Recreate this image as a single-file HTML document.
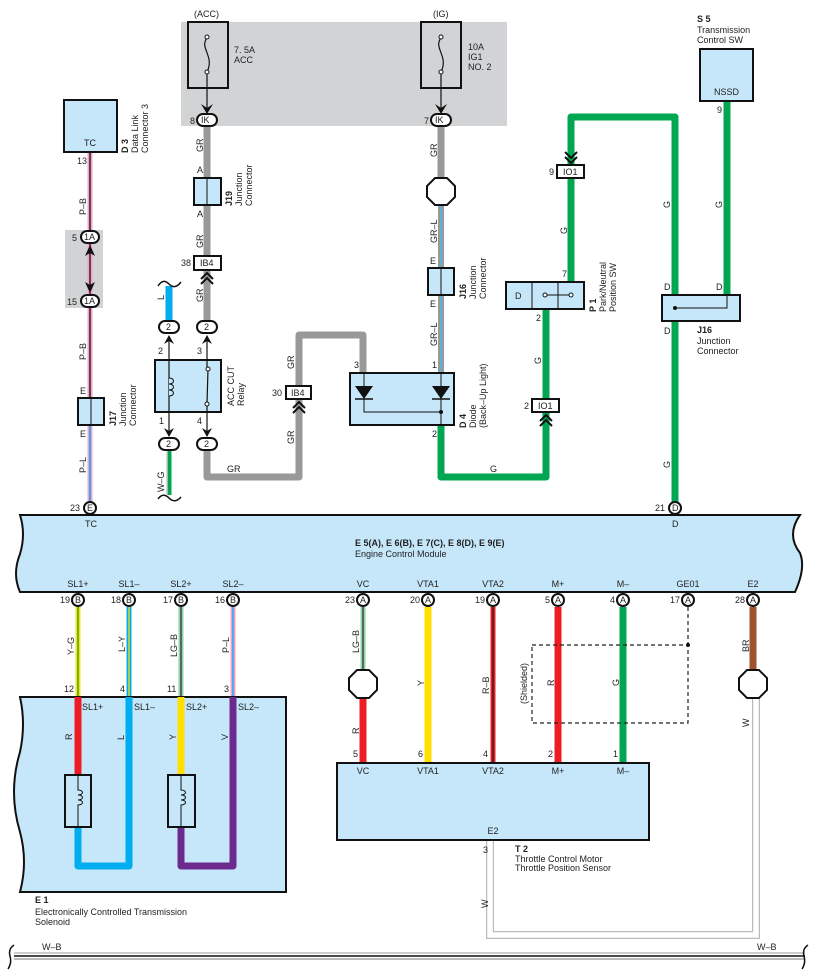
<!DOCTYPE html>
<html><head><meta charset="utf-8"><style>
html,body{margin:0;padding:0;background:#fff}
svg{display:block}
text{font-family:"Liberation Sans",sans-serif;font-size:9px;fill:#222}
.b{font-weight:bold}
</style></head><body>
<svg width="818" height="979" viewBox="0 0 818 979" xmlns="http://www.w3.org/2000/svg">
<defs>
<marker id="ar" viewBox="0 0 10 10" refX="5" refY="9" markerWidth="8" markerHeight="8" orient="auto"><path d="M0,2 L5,10 L10,2 L5,5z" fill="#111"/></marker>
</defs>
<!-- gray areas -->
<rect x="181" y="22" width="326" height="104" fill="#d2d3d5"/>
<rect x="65" y="230" width="38" height="78" fill="#d2d3d5"/>

<!-- fuse boxes -->
<rect x="188" y="22" width="40" height="66" fill="none" stroke="#111" stroke-width="2"/>
<path d="M207,38 c-8,10 8,18 0,34" fill="none" stroke="#111" stroke-width="1.2"/>
<circle cx="207" cy="37" r="2" fill="#fff" stroke="#111"/><circle cx="207" cy="72" r="2" fill="#fff" stroke="#111"/>
<line x1="207" y1="74" x2="207" y2="112" stroke="#111" stroke-width="1.2"/>
<path d="M201,104 L207,114 L213,104 L207,108z" fill="#111"/>
<text x="194" y="17">(ACC)</text><text x="234" y="53">7. 5A</text><text x="234" y="63">ACC</text>
<rect x="421" y="22" width="40" height="66" fill="none" stroke="#111" stroke-width="2"/>
<path d="M441,38 c-8,10 8,18 0,34" fill="none" stroke="#111" stroke-width="1.2"/>
<circle cx="441" cy="37" r="2" fill="#fff" stroke="#111"/><circle cx="441" cy="72" r="2" fill="#fff" stroke="#111"/>
<line x1="441" y1="74" x2="441" y2="112" stroke="#111" stroke-width="1.2"/>
<path d="M435,104 L441,114 L447,104 L441,108z" fill="#111"/>
<text x="433" y="17">(IG)</text><text x="468" y="50">10A</text><text x="468" y="60">IG1</text><text x="468" y="70">NO. 2</text>

<!-- GR wires -->
<g stroke="#999" stroke-width="7" fill="none" stroke-linejoin="round">
<line x1="207" y1="126" x2="207" y2="322"/>
<path d="M207,450 V477 H299 V335 H363 V373"/>
<line x1="441" y1="126" x2="441" y2="180"/>
</g>
<!-- GR-L -->
<line x1="441" y1="203" x2="441" y2="373" stroke="#999" stroke-width="6"/>
<line x1="441" y1="203" x2="441" y2="373" stroke="#4db8e8" stroke-width="1.5"/>
<!-- G wires -->
<g stroke="#00a651" stroke-width="7" fill="none" stroke-linejoin="round">
<path d="M441,425 V477 H546 V309"/>
<path d="M571,282 V117 H675 V502"/>
<line x1="727" y1="101" x2="727" y2="295"/>
</g>
<!-- L wire -->
<line x1="169" y1="286" x2="169" y2="321" stroke="#00aeef" stroke-width="7"/>
<path d="M158,286 q5,-8 11,-2 q6,6 12,-2" fill="none" stroke="#111" stroke-width="1.5"/>
<!-- W-G -->
<line x1="169" y1="450" x2="169" y2="495" stroke="#00a651" stroke-width="5"/>
<line x1="167" y1="450" x2="167" y2="495" stroke="#ccc" stroke-width="1.5"/>
<path d="M158,499 q5,-7 11,-1 q6,6 12,-1" fill="none" stroke="#111" stroke-width="1.5"/>

<!-- P-B wire D3 -->
<line x1="90" y1="152" x2="90" y2="398" stroke="#f5a0c8" stroke-width="5"/>
<line x1="90" y1="152" x2="90" y2="398" stroke="#111" stroke-width="1.3"/>
<line x1="90" y1="425" x2="90" y2="502" stroke="#f5a0c8" stroke-width="5"/>
<line x1="90" y1="425" x2="90" y2="502" stroke="#00aeef" stroke-width="1.5"/>

<!-- D3 -->
<rect x="64" y="100" width="53" height="52" fill="#c5e7f9" stroke="#111" stroke-width="2"/>
<text x="84" y="146">TC</text><text x="77" y="164" font-size="8">13</text>
<g transform="translate(122,153) rotate(-90)"><text class="b" x="0" y="6">D 3</text><text x="0" y="16">Data Link</text><text x="0" y="26">Connector 3</text></g>
<!-- 1A -->
<rect x="81" y="231" width="18" height="12" rx="6" fill="#fff" stroke="#111" stroke-width="2"/><text x="84" y="240">1A</text><text x="72" y="241">5</text>
<rect x="81" y="295" width="18" height="12" rx="6" fill="#fff" stroke="#111" stroke-width="2"/><text x="84" y="304">1A</text><text x="67" y="305">15</text>
<line x1="90" y1="250" x2="90" y2="288" stroke="#111" stroke-width="1"/>
<path d="M85,256 L90,245 L95,256 L90,253z M85,282 L90,293 L95,282 L90,285z" fill="#111"/>
<!-- J17 -->
<rect x="78" y="398" width="26" height="27" fill="#c5e7f9" stroke="#111" stroke-width="2"/><line x1="91" y1="398" x2="91" y2="425" stroke="#111"/>
<text x="80" y="394">E</text><text x="80" y="437">E</text>
<g transform="translate(110,426) rotate(-90)"><text class="b" x="0" y="6">J17</text><text x="0" y="16">Junction</text><text x="0" y="26">Connector</text></g>
<g transform="rotate(-90)"><text x="-215" y="86">P–B</text><text x="-360" y="86">P–B</text><text x="-473" y="86">P–L</text></g>

<!-- IK ovals -->
<rect x="197" y="114" width="20" height="12" rx="6" fill="#fff" stroke="#111" stroke-width="2"/><text x="201" y="123">IK</text><text x="190" y="124">8</text>
<rect x="431" y="114" width="20" height="12" rx="6" fill="#fff" stroke="#111" stroke-width="2"/><text x="435" y="123">IK</text><text x="424" y="124">7</text>
<!-- J19 -->
<rect x="194" y="178" width="27" height="27" fill="#c5e7f9" stroke="#111" stroke-width="2"/><line x1="207" y1="178" x2="207" y2="205" stroke="#111"/>
<text x="197" y="173">A</text><text x="197" y="217">A</text>
<g transform="translate(226,206) rotate(-90)"><text class="b" x="0" y="6">J19</text><text x="0" y="16">Junction</text><text x="0" y="26">Connector</text></g>
<g transform="rotate(-90)"><text x="-152" y="203">GR</text><text x="-248" y="203">GR</text><text x="-302" y="203">GR</text><text x="-369" y="294">GR</text><text x="-444" y="294">GR</text><text x="-157" y="437">GR</text><text x="-243" y="437">GR–L</text><text x="-346" y="437">GR–L</text></g>
<!-- IB4 38 -->
<rect x="194" y="256" width="27" height="14" fill="#fff" stroke="#111" stroke-width="2"/><text x="200" y="266">IB4</text><text x="181" y="266">38</text>
<path d="M201,279 L207,273 L213,279 M201,284 L207,278 L213,284" fill="none" stroke="#111" stroke-width="2"/>
<!-- relay -->
<rect x="159" y="321" width="20" height="12" rx="6" fill="#fff" stroke="#111" stroke-width="2"/><text x="166" y="330">2</text>
<rect x="197" y="321" width="20" height="12" rx="6" fill="#fff" stroke="#111" stroke-width="2"/><text x="204" y="330">2</text>
<rect x="159" y="438" width="20" height="12" rx="6" fill="#fff" stroke="#111" stroke-width="2"/><text x="166" y="447">2</text>
<rect x="197" y="438" width="20" height="12" rx="6" fill="#fff" stroke="#111" stroke-width="2"/><text x="204" y="447">2</text>
<rect x="155" y="360" width="66" height="52" fill="#c5e7f9" stroke="#111" stroke-width="2"/>
<line x1="169" y1="336" x2="169" y2="436" stroke="#111" stroke-width="1.2"/>
<line x1="207" y1="336" x2="207" y2="369" stroke="#111" stroke-width="1.2"/><line x1="207" y1="404" x2="207" y2="436" stroke="#111" stroke-width="1.2"/>
<line x1="208" y1="369" x2="207" y2="404" stroke="#111" stroke-width="1.2"/>
<circle cx="208" cy="369" r="2" fill="#fff" stroke="#111"/><circle cx="207" cy="404" r="2" fill="#fff" stroke="#111"/>
<path d="M169,378 c6,0 6,6 0,6 c6,0 6,6 0,6 c6,0 6,6 0,6" fill="#c5e7f9" stroke="#111"/>
<path d="M164,344 L169,335 L174,344 L169,341z M202,344 L207,335 L212,344 L207,341z M164,428 L169,437 L174,428 L169,431z M202,428 L207,437 L212,428 L207,431z" fill="#111"/>
<text x="158" y="354">2</text><text x="197" y="354">3</text><text x="159" y="424">1</text><text x="197" y="424">4</text>
<g transform="translate(226,406) rotate(-90)"><text x="0" y="8">ACC CUT</text><text x="0" y="18">Relay</text></g>
<text x="227" y="472">GR</text>
<g transform="rotate(-90)"><text x="-300" y="164">L</text><text x="-492" y="164">W–G</text></g>
<!-- IB4 30 -->
<rect x="286" y="386" width="25" height="13" fill="#fff" stroke="#111" stroke-width="2"/><text x="291" y="396">IB4</text><text x="272" y="396">30</text>
<path d="M293,408 L299,402 L305,408 M293,413 L299,407 L305,413" fill="none" stroke="#111" stroke-width="2"/>
<!-- octagon IG -->
<polygon points="435,178 447,178 455,186 455,197 447,205 435,205 427,197 427,186" fill="#fff" stroke="#111" stroke-width="2"/>
<!-- J16 left -->
<rect x="428" y="268" width="26" height="27" fill="#c5e7f9" stroke="#111" stroke-width="2"/><line x1="441" y1="268" x2="441" y2="295" stroke="#111"/>
<text x="430" y="264">E</text><text x="430" y="307">E</text>
<g transform="translate(460,299) rotate(-90)"><text class="b" x="0" y="6">J16</text><text x="0" y="16">Junction</text><text x="0" y="26">Connector</text></g>
<!-- diode -->
<rect x="350" y="373" width="104" height="52" fill="#c5e7f9" stroke="#111" stroke-width="2"/>
<path d="M364,373 V412 H441 M441,373 V425" fill="none" stroke="#111" stroke-width="1"/>
<polygon points="355,386 373,386 364,399" fill="#111"/><line x1="355" y1="399" x2="373" y2="399" stroke="#111" stroke-width="1.5"/>
<polygon points="432,386 450,386 441,399" fill="#111"/><line x1="432" y1="399" x2="450" y2="399" stroke="#111" stroke-width="1.5"/>
<circle cx="441" cy="412" r="2" fill="#111"/>
<text x="354" y="368">3</text><text x="432" y="368">1</text><text x="432" y="437">2</text>
<g transform="translate(460,428) rotate(-90)"><text class="b" x="0" y="6">D 4</text><text x="0" y="16">Diode</text><text x="0" y="26">(Back–Up Light)</text></g>
<text x="490" y="472">G</text>
<!-- IO1 -->
<rect x="532" y="399" width="27" height="13" fill="#fff" stroke="#111" stroke-width="2"/><text x="538" y="409">IO1</text><text x="524" y="409">2</text>
<path d="M540,421 L546,415 L552,421 M540,426 L546,420 L552,426" fill="none" stroke="#111" stroke-width="2"/>
<rect x="557" y="165" width="27" height="13" fill="#fff" stroke="#111" stroke-width="2"/><text x="563" y="175">IO1</text><text x="549" y="175">9</text>
<path d="M565,152 L571,158 L577,152 M565,157 L571,163 L577,157" fill="none" stroke="#111" stroke-width="2"/>
<!-- P1 -->
<rect x="506" y="282" width="78" height="27" fill="#c5e7f9" stroke="#111" stroke-width="2"/>
<line x1="532" y1="282" x2="532" y2="309" stroke="#111"/><line x1="558" y1="282" x2="558" y2="309" stroke="#111"/>
<line x1="545" y1="295" x2="571" y2="295" stroke="#111"/><circle cx="545" cy="295" r="2" fill="#fff" stroke="#111"/><circle cx="571" cy="295" r="2" fill="#fff" stroke="#111"/>
<text x="515" y="299">D</text><text x="562" y="277">7</text><text x="536" y="321">2</text>
<g transform="translate(590,312) rotate(-90)"><text class="b" x="0" y="6">P 1</text><text x="0" y="16">Park/Neutral</text><text x="0" y="26">Position SW</text></g>
<g transform="rotate(-90)"><text x="-234" y="567">G</text><text x="-364" y="541">G</text><text x="-208" y="670">G</text><text x="-468" y="670">G</text><text x="-208" y="722">G</text></g>
<!-- S5 -->
<text class="b" x="697" y="22">S 5</text><text x="697" y="33">Transmission</text><text x="697" y="43">Control SW</text>
<rect x="700" y="49" width="53" height="52" fill="#c5e7f9" stroke="#111" stroke-width="2"/><text x="714" y="95">NSSD</text><text x="717" y="113" font-size="8">9</text>
<!-- J16 right -->
<rect x="662" y="295" width="78" height="26" fill="#c5e7f9" stroke="#111" stroke-width="2"/>
<path d="M675,308 H727 V295" fill="none" stroke="#111" stroke-width="1"/><circle cx="675" cy="308" r="2" fill="#111"/>
<text x="664" y="290">D</text><text x="716" y="290">D</text><text x="664" y="334">D</text>
<text class="b" x="697" y="333">J16</text><text x="697" y="344">Junction</text><text x="697" y="354">Connector</text>

<!-- ECM -->
<path d="M20,515 H800 q-14,20 0,38 q6,15 -5,39 H20 q-8,-18 0,-38 q6,-20 0,-39z" fill="#c5e7f9" stroke="#111" stroke-width="2"/>
<circle cx="90" cy="508" r="6" fill="#fff" stroke="#111" stroke-width="2"/><text x="87" y="511" font-size="8">E</text><text x="70" y="511">23</text>
<circle cx="675" cy="508" r="6" fill="#fff" stroke="#111" stroke-width="2"/><text x="672" y="511" font-size="8">D</text><text x="655" y="511">21</text>
<text x="85" y="527">TC</text><text x="672" y="527">D</text>
<text class="b" x="355" y="546">E 5(A), E 6(B), E 7(C), E 8(D), E 9(E)</text><text x="355" y="557">Engine Control Module</text>
<g text-anchor="middle">
<text x="78" y="587">SL1+</text><text x="129" y="587">SL1–</text><text x="181" y="587">SL2+</text><text x="233" y="587">SL2–</text>
<text x="363" y="587">VC</text><text x="428" y="587">VTA1</text><text x="493" y="587">VTA2</text><text x="558" y="587">M+</text><text x="623" y="587">M–</text><text x="688" y="587">GE01</text><text x="753" y="587">E2</text>
</g>

<!-- lower wires -->
<g stroke-width="5" fill="none">
<line x1="78" y1="607" x2="78" y2="697" stroke="#ffde00"/><line x1="78" y1="607" x2="78" y2="697" stroke="#00a651" stroke-width="1.3"/>
<line x1="129" y1="607" x2="129" y2="697" stroke="#00aeef"/><line x1="129" y1="607" x2="129" y2="697" stroke="#ffde00" stroke-width="1.3"/>
<line x1="181" y1="607" x2="181" y2="697" stroke="#8fd3a8"/><line x1="181" y1="607" x2="181" y2="697" stroke="#333" stroke-width="1.3"/>
<line x1="233" y1="607" x2="233" y2="697" stroke="#f5a0c8"/><line x1="233" y1="607" x2="233" y2="697" stroke="#00aeef" stroke-width="1.3"/>
<line x1="363" y1="607" x2="363" y2="670" stroke="#8fd3a8"/><line x1="363" y1="607" x2="363" y2="670" stroke="#333" stroke-width="1.3"/>
<line x1="493" y1="607" x2="493" y2="763" stroke="#ed1c24"/><line x1="493" y1="607" x2="493" y2="763" stroke="#222" stroke-width="1.3"/>
</g>
<g stroke-width="7" fill="none">
<line x1="428" y1="607" x2="428" y2="763" stroke="#ffde00"/>
<line x1="558" y1="607" x2="558" y2="763" stroke="#ed1c24"/>
<line x1="623" y1="607" x2="623" y2="763" stroke="#00a651"/>
<line x1="753" y1="607" x2="753" y2="670" stroke="#a0522d"/>
<line x1="363" y1="698" x2="363" y2="763" stroke="#ed1c24"/>
</g>
<!-- shield -->
<path d="M688,607 V645 M532,645 H688 V723 H532z" fill="none" stroke="#222" stroke-width="1.2" stroke-dasharray="4,3"/>
<circle cx="688" cy="645" r="2" fill="#111"/>
<!-- W wire -->
<path d="M490,840 V935 H756 V698" fill="none" stroke="#bbb" stroke-width="8"/>
<path d="M490,840 V935 H756 V698" fill="none" stroke="#fff" stroke-width="5.5"/>
<!-- pins bottom -->
<g stroke="#111" stroke-width="2" fill="#fff">
<circle cx="78" cy="600" r="6"/><circle cx="129" cy="600" r="6"/><circle cx="181" cy="600" r="6"/><circle cx="233" cy="600" r="6"/>
<circle cx="363" cy="600" r="6"/><circle cx="428" cy="600" r="6"/><circle cx="493" cy="600" r="6"/><circle cx="558" cy="600" r="6"/><circle cx="623" cy="600" r="6"/><circle cx="688" cy="600" r="6"/><circle cx="753" cy="600" r="6"/>
</g>
<g font-size="8" text-anchor="middle">
<text x="78" y="603">B</text><text x="129" y="603">B</text><text x="181" y="603">B</text><text x="233" y="603">B</text>
<text x="363" y="603">A</text><text x="428" y="603">A</text><text x="493" y="603">A</text><text x="558" y="603">A</text><text x="623" y="603">A</text><text x="688" y="603">A</text><text x="753" y="603">A</text>
</g>
<g text-anchor="end">
<text x="70" y="603">19</text><text x="121" y="603">18</text><text x="173" y="603">17</text><text x="225" y="603">16</text>
<text x="355" y="603">23</text><text x="420" y="603">20</text><text x="485" y="603">19</text><text x="550" y="603">5</text><text x="615" y="603">4</text><text x="680" y="603">17</text><text x="745" y="603">28</text>
</g>
<!-- octagons -->
<polygon points="357,670 369,670 377,678 377,690 369,698 357,698 349,690 349,678" fill="#fff" stroke="#111" stroke-width="2"/>
<polygon points="747,670 759,670 767,678 767,690 759,698 747,698 739,690 739,678" fill="#fff" stroke="#111" stroke-width="2"/>
<g transform="rotate(-90)">
<text x="-655" y="74">Y–G</text><text x="-652" y="125">L–Y</text><text x="-657" y="177">LG–B</text><text x="-653" y="229">P–L</text>
<text x="-653" y="359">LG–B</text><text x="-686" y="424">Y</text><text x="-694" y="489">R–B</text><text x="-704" y="527">(Shielded)</text><text x="-686" y="554">R</text><text x="-686" y="619">G</text><text x="-652" y="749">BR</text><text x="-727" y="749">W</text>
<text x="-734" y="359">R</text><text x="-908" y="488">W</text>
</g>

<!-- E1 -->
<path d="M20,697 H286 V892 H20 q8,-30 0,-60 q-12,-40 0,-80 q6,-28 0,-55z" fill="#c5e7f9" stroke="#111" stroke-width="2"/>
<text x="64" y="692">12</text><text x="120" y="692">4</text><text x="167" y="692">11</text><text x="224" y="692">3</text>
<g fill="none" stroke-width="7" stroke-linejoin="round">
<line x1="78" y1="697" x2="78" y2="775" stroke="#ed1c24"/>
<path d="M78,827 V866 H129 V697" stroke="#00aeef"/>
<line x1="181" y1="697" x2="181" y2="775" stroke="#ffde00"/>
<path d="M181,827 V866 H233 V697" stroke="#6d2a8e"/>
</g>
<rect x="65" y="775" width="26" height="52" fill="#c5e7f9" stroke="#111" stroke-width="2"/>
<rect x="168" y="775" width="27" height="52" fill="#c5e7f9" stroke="#111" stroke-width="2"/>
<path d="M78,775 V790 c6,0 6,5 0,5 c6,0 6,5 0,5 c6,0 6,5 0,5 V827 M181,775 V790 c6,0 6,5 0,5 c6,0 6,5 0,5 c6,0 6,5 0,5 V827" fill="none" stroke="#111"/>
<text x="82" y="710">SL1+</text><text x="134" y="710">SL1–</text><text x="186" y="710">SL2+</text><text x="238" y="710">SL2–</text>
<g transform="rotate(-90)"><text x="-740" y="72">R</text><text x="-740" y="124">L</text><text x="-740" y="176">Y</text><text x="-740" y="228">V</text></g>
<text class="b" x="35" y="903">E 1</text><text x="35" y="915">Electronically Controlled Transmission</text><text x="35" y="925">Solenoid</text>

<!-- T2 -->
<rect x="337" y="763" width="312" height="77" fill="#c5e7f9" stroke="#111" stroke-width="2"/>
<text x="353" y="757">5</text><text x="418" y="757">6</text><text x="483" y="757">4</text><text x="548" y="757">2</text><text x="613" y="757">1</text>
<g text-anchor="middle"><text x="363" y="774">VC</text><text x="428" y="774">VTA1</text><text x="493" y="774">VTA2</text><text x="558" y="774">M+</text><text x="623" y="774">M–</text><text x="493" y="834">E2</text></g>
<text x="483" y="853">3</text>
<text class="b" x="515" y="852">T 2</text><text x="515" y="862">Throttle Control Motor</text><text x="515" y="871">Throttle Position Sensor</text>

<!-- W-B bus -->
<line x1="14" y1="953" x2="805" y2="953" stroke="#999" stroke-width="1"/>
<line x1="14" y1="956" x2="805" y2="956" stroke="#111" stroke-width="1.5"/>
<line x1="14" y1="959" x2="805" y2="959" stroke="#bbb" stroke-width="2"/>
<path d="M14,945 q-6,4 -4,11 q2,7 -2,13 M808,945 q-6,4 -4,11 q2,7 -2,13" fill="none" stroke="#111" stroke-width="1.5"/>
<text x="42" y="950">W–B</text><text x="757" y="950">W–B</text>
</svg>
</body></html>
